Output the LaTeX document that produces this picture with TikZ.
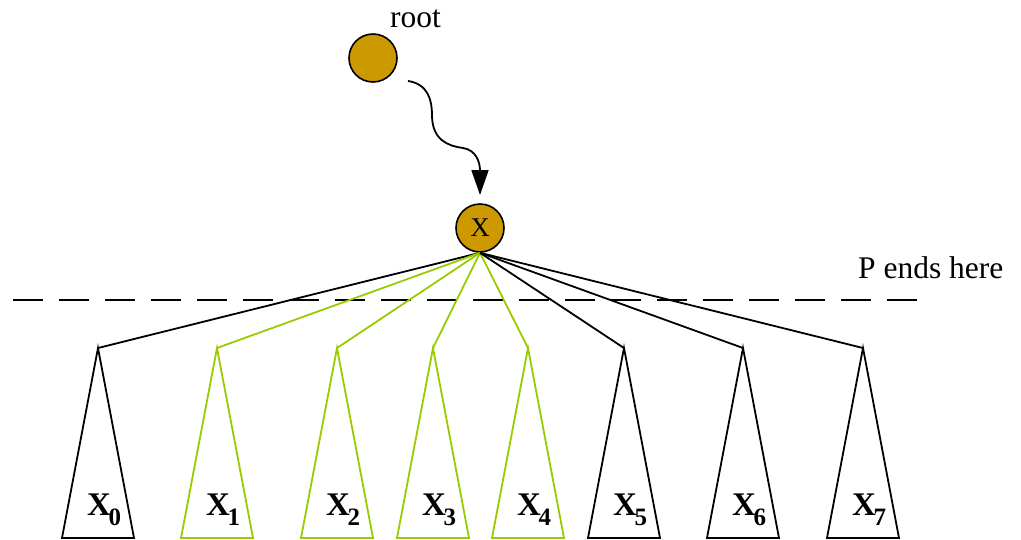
\documentclass[tikz,border=0pt]{standalone}
\usepackage{fontspec}
\setmainfont{Liberation Serif}
\usetikzlibrary{arrows.meta}
\definecolor{gold}{HTML}{CC9900}
\definecolor{lime}{HTML}{99CC00}
\tikzset{
  ball/.style={circle,draw=black,line width=1.6pt,fill=gold,minimum size=48pt,inner sep=0pt},
  blk/.style={draw=black,line width=1.8pt,line join=miter},
  grn/.style={draw=lime,line width=1.8pt,line join=miter},
  lbl/.style={anchor=base west,inner sep=0pt},
  txt/.style={inner sep=0pt,font=\fontsize{31.5}{31.5}\selectfont}
}
\newcommand{\sublbl}[1]{\fontsize{33}{33}\selectfont\bfseries X\kern-2.5pt\raisebox{-10pt}{\fontsize{25}{25}\selectfont #1}}
\begin{document}
\begin{tikzpicture}[x=1pt,y=-1pt]
\useasboundingbox (0,0) rectangle (1021,539);
\node[ball] (root) at (373,58) {};
\node[txt,anchor=base west] (rootlbl) at (390,27) {root};
\node[ball] (x) at (480,228) {\fontsize{27}{27}\selectfont X};
\coordinate (cs) at (408,81);
\draw[line width=1.8pt,-{Triangle[length=25pt,width=17pt]}] (cs) .. controls (428,84) and (432,100) .. (432,115) .. controls (432,140) and (448,146) .. (463,148) .. controls (476,150) and (480,162) .. (480,195);
\coordinate (dl) at (13,300);
\coordinate (dr) at (917,300);
\draw[line width=2.2pt,dash pattern=on 30pt off 16pt] (dl) -- (dr);
\node[txt,anchor=base west] (pend) at (858,278) {P ends here};
\foreach \i/\cx/\st in {0/98/blk,1/217/grn,2/337/grn,3/433/grn,4/528/grn,5/624/blk,6/743/blk,7/863/blk}{
  \coordinate (a\i) at (\cx,348);
  \draw[\st] (x.south) -- (a\i);
  \draw[\st] (a\i) -- ++(-36,190) -- ++(72,0) -- cycle;
  \node[lbl] (l\i) at (\cx-11,515) {\sublbl{\i}};
}
\end{tikzpicture}
\end{document}
